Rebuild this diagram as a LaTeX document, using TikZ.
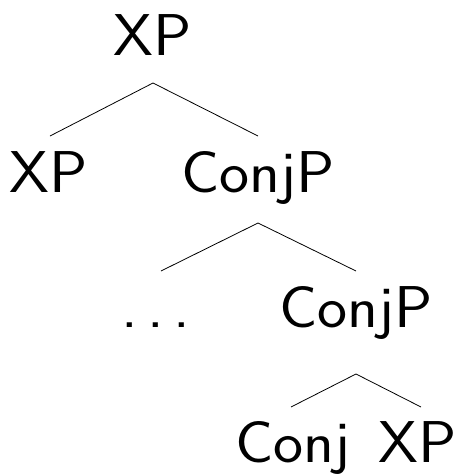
\documentclass[tikz,border=0pt]{standalone}
\usepackage{fontspec}
\newfontfamily\treefont{lmsans17-regular}[Extension=.otf]
\begin{document}
\begin{tikzpicture}[x=1pt,y=-1pt,
  lbl/.style={anchor=base,inner sep=0pt,xscale=1.08,transform shape,
              font=\treefont\fontsize{59}{66}\selectfont},
  branch/.style={line width=0.8pt}]
\useasboundingbox (0,0) rectangle (459,474);
% labels
\node[lbl] (root)   at (153,55)  {XP};
\node[lbl] (xpa)    at (49,192)  {XP};
\node[lbl] (conjpa) at (258,192) {ConjP};
\node[lbl] (dots)   at (156,327) {.\kern0.15em.\kern0.15em.};
\node[lbl] (conjpb) at (356,327) {ConjP};
\node[lbl] (conj)   at (293,462) {Conj};
\node[lbl] (xpb)    at (418,462) {XP};
% branch ends
\coordinate (root-d)   at (153,83);
\coordinate (xpa-u)    at (50,136);
\coordinate (conjpa-u) at (258,136);
\coordinate (conjpa-d) at (258,223);
\coordinate (dots-u)   at (161,271);
\coordinate (conjpb-u) at (356,271);
\coordinate (conjpb-d) at (356,374);
\coordinate (conj-u)   at (291,407);
\coordinate (xpb-u)    at (421,407);
% branches
\draw[branch] (xpa-u) -- (root-d) -- (conjpa-u);
\draw[branch] (dots-u) -- (conjpa-d) -- (conjpb-u);
\draw[branch] (conj-u) -- (conjpb-d) -- (xpb-u);
\end{tikzpicture}
\end{document}
